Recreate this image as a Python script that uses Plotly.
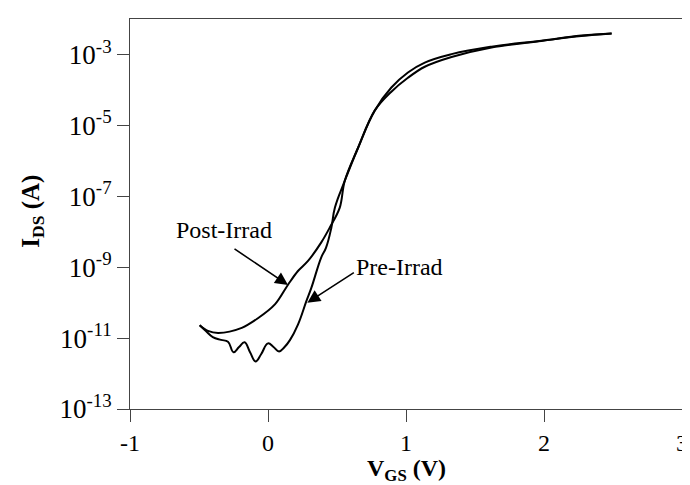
import plotly.graph_objects as go

# Gate voltage (V) and drain current (A)
vgs_post = [-0.495, -0.435, -0.36, -0.19, -0.07, 0.05, 0.145, 0.217, 0.29, 0.386,
            0.447, 0.52, 0.556, 0.652, 0.773, 0.894, 1.014, 1.136, 1.33, 1.62,
            1.98, 2.27, 2.49]
ids_post = [2.3e-11, 1.6e-11, 1.4e-11, 1.95e-11, 3.7e-11, 8.9e-11, 3.2e-10, 7.8e-10,
            1.5e-9, 5.0e-9, 1.3e-8, 4.8e-8, 2.7e-7, 2.3e-6, 2.6e-5, 8.9e-5, 2.2e-4,
            4.5e-4, 8.5e-4, 1.58e-3, 2.4e-3, 3.3e-3, 3.9e-3]

vgs_pre = [-0.495, -0.45, -0.40, -0.34, -0.29, -0.25, -0.21, -0.17, -0.13, -0.09,
           -0.05, 0.0, 0.04, 0.08, 0.12, 0.16, 0.217, 0.278, 0.314, 0.386,
           0.42, 0.459, 0.485, 0.556, 0.652, 0.773, 0.894, 1.014, 1.136, 1.33,
           1.62, 1.98, 2.27, 2.49]
ids_pre = [2.3e-11, 1.58e-11, 1.07e-11, 8.9e-12, 7.9e-12, 4.0e-12, 5.6e-12, 7.6e-12,
           4.0e-12, 2.2e-12, 3.5e-12, 7.1e-12, 5.6e-12, 4.2e-12, 5.6e-12, 8.9e-12,
           2.4e-11, 1.1e-10, 2.6e-10, 1.9e-9, 3.5e-9, 1.3e-8, 4.8e-8, 2.7e-7, 2.3e-6,
           2.6e-5, 1.17e-4, 3.1e-4, 5.9e-4, 1.02e-3, 1.66e-3, 2.45e-3, 3.4e-3, 3.9e-3]

x_ticks = [-1, 0, 1, 2, 3]
y_tick_exps = [-3, -5, -7, -9, -11, -13]
y_tick_vals = [10.0 ** e for e in y_tick_exps]
y_tick_text = ["10<sup>%d</sup>" % e for e in y_tick_exps]

FONT = "Liberation Serif, Times New Roman, serif"

fig = go.Figure()
fig.add_trace(go.Scatter(x=vgs_post, y=ids_post, mode="lines", name="Post-Irrad",
                         line=dict(color="black", width=2, shape="spline", smoothing=1.0)))
fig.add_trace(go.Scatter(x=vgs_pre, y=ids_pre, mode="lines", name="Pre-Irrad",
                         line=dict(color="black", width=2, shape="spline", smoothing=1.2)))

# labels with arrows
fig.add_annotation(x=0.145, y=-9.5, ax=-55, ay=-37, text="", showarrow=True,
                   arrowhead=2, arrowsize=1.6, arrowwidth=1.6, arrowcolor="black")
fig.add_annotation(x=-0.32, y=-7.94, text="Post-Irrad", showarrow=False,
                   font=dict(family=FONT, size=24, color="black"))
fig.add_annotation(x=0.285, y=-10.0, ax=48, ay=-31, text="", showarrow=True,
                   arrowhead=2, arrowsize=1.6, arrowwidth=1.6, arrowcolor="black")
fig.add_annotation(x=0.95, y=-9.0, text="Pre-Irrad", showarrow=False,
                   font=dict(family=FONT, size=24, color="black"))

# axis titles
fig.add_annotation(xref="paper", yref="paper", x=-0.176, y=0.508,
                   text="<b>I<sub>DS</sub> (A)</b>", textangle=-90, showarrow=False,
                   xanchor="center", yanchor="middle",
                   font=dict(family=FONT, size=25, color="black"))
fig.add_annotation(xref="paper", yref="paper", x=0.5, y=-0.156,
                   text="<b>V<sub>GS</sub> (V)</b>", showarrow=False,
                   xanchor="center", yanchor="middle",
                   font=dict(family=FONT, size=24, color="black"))

fig.update_layout(
    width=690, height=485,
    margin=dict(l=122, r=16, t=11, b=84),
    paper_bgcolor="white", plot_bgcolor="white",
    showlegend=False,
    font=dict(family=FONT, size=24, color="black"),
    xaxis=dict(range=[-1, 3], tickvals=x_ticks, ticktext=[str(v) for v in x_ticks],
               ticks="outside", ticklen=12, tickcolor="#444", showgrid=False,
               zeroline=False, showline=True, linecolor="#444", linewidth=1, mirror=True,
               ticklabelstandoff=0, tickfont=dict(family=FONT, size=24)),
    yaxis=dict(type="log", range=[-13, -2], tickvals=y_tick_vals, ticktext=y_tick_text,
               ticks="outside", ticklen=12, tickcolor="#444", showgrid=False,
               zeroline=False, showline=True, linecolor="#444", linewidth=1, mirror=True,
               ticklabelstandoff=0, tickfont=dict(family=FONT, size=27)),
)

fig.write_html("out.html")
